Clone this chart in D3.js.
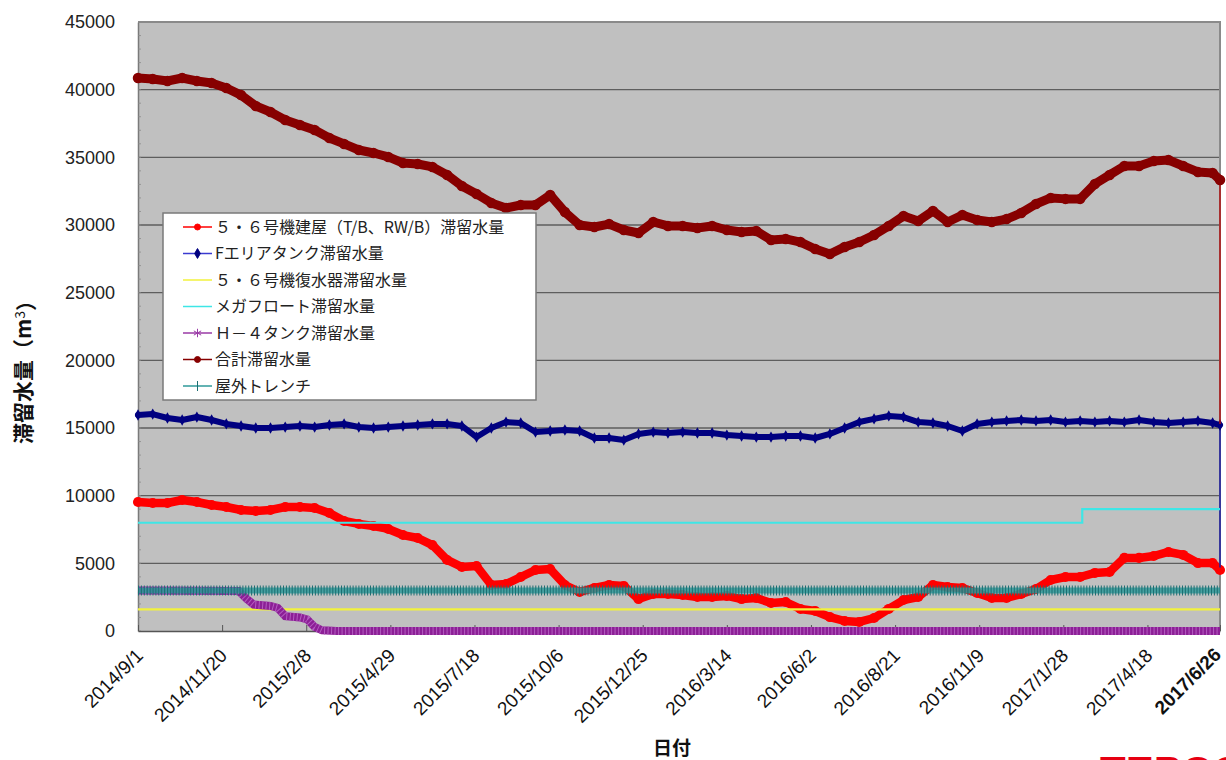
<!DOCTYPE html>
<html>
<head>
<meta charset="utf-8">
<script src="https://cdn.jsdelivr.net/npm/d3@7"></script>
<style>
  body { margin: 0; background: #fff; }
  svg { display: block; }
</style>
</head>
<body>
<svg id="chart" width="1226" height="760"></svg>
<script>
// sample dates (every two weeks, plus the last day)
var sampleDates = [
  "2014-09-01","2014-09-15","2014-09-29","2014-10-13","2014-10-27","2014-11-10","2014-11-24","2014-12-08","2014-12-22",
  "2015-01-05","2015-01-19","2015-02-02","2015-02-16","2015-03-02","2015-03-16","2015-03-30","2015-04-13","2015-04-27",
  "2015-05-11","2015-05-25","2015-06-08","2015-06-22","2015-07-06","2015-07-20","2015-08-03","2015-08-17","2015-08-31",
  "2015-09-14","2015-09-28","2015-10-12","2015-10-26","2015-11-09","2015-11-23","2015-12-07","2015-12-21",
  "2016-01-04","2016-01-18","2016-02-01","2016-02-15","2016-02-29","2016-03-14","2016-03-28","2016-04-11","2016-04-25",
  "2016-05-09","2016-05-23","2016-06-06","2016-06-20","2016-07-04","2016-07-18","2016-08-01","2016-08-15","2016-08-29",
  "2016-09-12","2016-09-26","2016-10-10","2016-10-24","2016-11-07","2016-11-21","2016-12-05","2016-12-19",
  "2017-01-02","2017-01-16","2017-01-30","2017-02-13","2017-02-27","2017-03-13","2017-03-27","2017-04-10","2017-04-24",
  "2017-05-08","2017-05-22","2017-06-05","2017-06-19","2017-06-26"
];

// 5・6号機建屋（T/B、RW/B）滞留水量
var buildingWater = [
  9530,9460,9460,9680,9530,9310,9160,8940,8870,
  8940,9160,9160,9090,8720,8130,7910,7760,7540,
  7090,6870,6350,5250,4730,4800,3400,3470,3990,
  4510,4580,3400,2880,3180,3400,3330,2360,
  2730,2730,2660,2510,2510,2590,2360,2440,2070,
  2140,1630,1480,1030,740,670,960,1630,2290,
  2510,3400,3250,3180,2810,2440,2440,2730,
  3100,3770,3990,3990,4290,4360,5400,5400,5540,
  5840,5620,5020,5020,4510
];

// Fエリアタンク滞留水量
var fAreaTank = [
  15960,16030,15740,15590,15810,15590,15300,15150,15000,
  15000,15070,15150,15070,15220,15300,15070,15000,15070,
  15150,15220,15300,15300,15150,14330,15000,15440,15370,
  14700,14780,14850,14780,14260,14260,14110,14560,
  14700,14630,14700,14630,14630,14480,14410,14330,14330,
  14410,14410,14260,14560,15000,15440,15670,15890,15810,
  15440,15370,15150,14780,15300,15440,15520,15590,
  15520,15590,15440,15520,15440,15520,15440,15590,15440,
  15370,15440,15520,15370,15220
];

// 合計滞留水量
var totalWater = [
  40860,40790,40640,40860,40640,40490,40120,39600,38790,
  38350,37760,37390,37020,36430,35990,35540,35320,35030,
  34580,34510,34290,33700,32880,32290,31630,31260,31480,
  31480,32220,30960,30000,29850,30070,29630,29410,
  30220,29930,29930,29780,29930,29630,29480,29560,28890,
  28970,28740,28230,27860,28380,28740,29260,29930,30670,
  30300,31040,30220,30740,30370,30220,30440,30890,
  31550,32000,31930,31930,33030,33700,34360,34360,34730,
  34800,34360,33920,33840,33330
];

// the last record of the two series drops to a lower value
var endDropDate = "2017-06-26";
var totalDropValue = 15300;
var fAreaDropValue = 4700;

// 5・６号機復水器滞留水量
var condenserDates = ["2014-09-01", "2017-06-26"];
var condenserValues = [1600, 1600];

// メガフロート滞留水量
var megaFloatDates = ["2014-09-01", "2017-02-15", "2017-06-26"];
var megaFloatValues = [8000, 9000, 9000];

// Ｈ－４タンク滞留水量
var h4Dates = ["2014-09-01","2014-12-06","2014-12-13","2014-12-20","2015-01-05","2015-01-12","2015-01-19",
               "2015-02-02","2015-02-09","2015-02-16","2015-02-23","2015-03-09","2017-06-26"];
var h4Values = [3000,2950,2400,1950,1850,1700,1100,1000,850,300,50,0,0];

// 屋外トレンチ
var trenchDates = ["2014-09-01", "2017-06-26"];
var trenchValues = [3000, 3000];

var xTickLabels = ["2014/9/1","2014/11/20","2015/2/8","2015/4/29","2015/7/18","2015/10/6","2015/12/25",
                   "2016/3/14","2016/6/2","2016/8/21","2016/11/9","2017/1/28","2017/4/18","2017/6/26"];
var yTicks = [0,5000,10000,15000,20000,25000,30000,35000,40000,45000];

var legendNames = [
  "５・６号機建屋（T/B、RW/B）滞留水量",
  "Fエリアタンク滞留水量",
  "５・６号機復水器滞留水量",
  "メガフロート滞留水量",
  "Ｈ－４タンク滞留水量",
  "合計滞留水量",
  "屋外トレンチ"
];

//=======================
// scales
//=======================
var parseDay = d3.timeParse("%Y-%m-%d");
var parseLabel = d3.timeParse("%Y/%m/%d");

var plotLeft = 138, plotRight = 1220, plotTop = 22, plotBottom = 631;

var x = d3.scaleTime()
  .domain([parseDay("2014-09-01"), parseDay("2017-06-26")])
  .range([plotLeft, plotRight]);
var y = d3.scaleLinear()
  .domain([0, 45000])
  .range([plotBottom, plotTop]);

var svg = d3.select('#chart');
var numFont = '"Liberation Sans", Arial, sans-serif';
var jpFont = '"Noto Sans CJK JP", "Noto Sans", sans-serif';

function pairs (dates, values) {
  return dates.map(function (d, i) { return { date: parseDay(d), value: values[i] }; });
}

var line = d3.line()
  .x(function (d) { return x(d.date); })
  .y(function (d) { return y(d.value); });

// plot background
svg.append('rect')
  .attr('x', plotLeft).attr('y', plotTop)
  .attr('width', plotRight - plotLeft).attr('height', plotBottom - plotTop)
  .style('fill', '#c0c0c0');

// grid lines
svg.append('g')
  .selectAll('line')
  .data(yTicks.filter(function (t) { return t > 0 && t < 45000; }))
  .enter().append('line')
  .attr('x1', plotLeft).attr('x2', plotRight)
  .attr('y1', function (d) { return y(d); })
  .attr('y2', function (d) { return y(d); })
  .style('stroke', '#5e5e5e')
  .style('stroke-width', 1.3);

// frame top / right
svg.append('path')
  .attr('d', 'M' + plotLeft + ',' + plotTop + 'H' + plotRight + 'V' + plotBottom)
  .style('fill', 'none')
  .style('stroke', '#8a8a8a')
  .style('stroke-width', 2);

//=======================
// axes
//=======================
var yAxis = svg.append('g')
  .attr('transform', 'translate(' + plotLeft + ',0)')
  .call(d3.axisLeft(y).tickValues(yTicks).tickSize(0).tickPadding(23).tickFormat(d3.format('d')));
yAxis.select('.domain').style('stroke', '#7a7a7a').style('stroke-width', 1.5);
yAxis.selectAll('text')
  .style('font-family', numFont)
  .style('font-size', '18px')
  .style('fill', '#222');

// minor ticks on the value axis
svg.append('g')
  .selectAll('line')
  .data(d3.range(0, 45001, 1000))
  .enter().append('line')
  .attr('x1', plotLeft).attr('x2', plotLeft + 3)
  .attr('y1', function (d) { return y(d); })
  .attr('y2', function (d) { return y(d); })
  .style('stroke', '#8a8a8a')
  .style('stroke-width', 0.8);

var xAxis = svg.append('g')
  .attr('transform', 'translate(0,' + plotBottom + ')')
  .call(d3.axisBottom(x)
    .tickValues(xTickLabels.map(parseLabel))
    .tickSizeInner(-6).tickSizeOuter(0)
    .tickFormat(function (d, i) { return xTickLabels[i]; }));
xAxis.select('.domain').style('stroke', '#555').style('stroke-width', 1.5);
xAxis.selectAll('line').style('stroke', '#555');
var lastLabel = xTickLabels.length - 1;
xAxis.selectAll('text')
  .style('font-family', numFont)
  .style('font-size', '19px')
  .style('fill', '#111')
  .style('font-weight', function (d, i) { return i == lastLabel ? 'bold' : 'normal'; })
  .attr('text-anchor', 'end')
  .attr('dy', '0.35em')
  .attr('transform', function (d, i) {
    return i == lastLabel ? 'translate(-3,20) rotate(-45)' : 'translate(1,21) rotate(-45)';
  })
  .attr('y', 0);

//=======================
// series
//=======================
var buildingData = pairs(sampleDates, buildingWater);
var fAreaData = pairs(sampleDates, fAreaTank);
var totalData = pairs(sampleDates, totalWater);

var plot = svg.append('g');

function thickSeries (data, color, width, r, shape) {
  plot.append('path')
    .datum(data)
    .attr('d', line)
    .style('fill', 'none')
    .style('stroke', color)
    .style('stroke-width', width)
    .style('stroke-linejoin', 'round')
    .style('stroke-linecap', 'round');
  plot.append('g')
    .selectAll('path')
    .data(data)
    .enter().append('path')
    .attr('transform', function (d) { return 'translate(' + x(d.date) + ',' + y(d.value) + ')'; })
    .attr('d', d3.symbol().type(shape).size(r * r * 3.2))
    .style('fill', color);
}

function dropLine (data, dropValue, color) {
  var last = data[data.length - 1];
  plot.append('path')
    .datum([last, { date: parseDay(endDropDate), value: dropValue }])
    .attr('d', line)
    .style('fill', 'none')
    .style('stroke', color)
    .style('stroke-width', 1.5);
}

// 5・6号機建屋
thickSeries(buildingData, '#ff0000', 8.5, 5, d3.symbolCircle);

// Fエリアタンク
dropLine(fAreaData, fAreaDropValue, '#1a1aa0');
thickSeries(fAreaData, '#000080', 6, 3.4, d3.symbolDiamond);

// 復水器
plot.append('path')
  .datum(pairs(condenserDates, condenserValues))
  .attr('d', line)
  .style('fill', 'none')
  .style('stroke', '#f2f23c')
  .style('stroke-width', 2.2);

// メガフロート
plot.append('path')
  .datum(pairs(megaFloatDates, megaFloatValues))
  .attr('d', line.curve(d3.curveStepAfter))
  .style('fill', 'none')
  .style('stroke', '#3ee6e6')
  .style('stroke-width', 2.2);
line.curve(d3.curveLinear);

// Ｈ－４タンク
var h4Data = pairs(h4Dates, h4Values);
plot.append('path')
  .datum(h4Data)
  .attr('d', line)
  .style('fill', 'none')
  .style('stroke', '#8c1f96')
  .style('stroke-width', 8);
plot.append('path')
  .datum(h4Data)
  .attr('d', line)
  .style('fill', 'none')
  .style('stroke', '#b35cc0')
  .style('stroke-width', 8)
  .style('stroke-dasharray', '1 2.5');

// 合計
dropLine(totalData, totalDropValue, '#b01010');
thickSeries(totalData, '#870000', 9, 5.2, d3.symbolCircle);

// 屋外トレンチ
var trenchData = pairs(trenchDates, trenchValues);
plot.append('path')
  .datum(trenchData)
  .attr('d', line)
  .style('fill', 'none')
  .style('stroke', '#2f9a9a')
  .style('stroke-width', 6)
  .style('opacity', 0.85);
plot.append('path')
  .datum(trenchData)
  .attr('d', line)
  .style('fill', 'none')
  .style('stroke', '#1c6e72')
  .style('stroke-width', 10)
  .style('stroke-dasharray', '1 1.9');

//=======================
// legend
//=======================
var legend = svg.append('g');
legend.append('rect')
  .attr('x', 163).attr('y', 213)
  .attr('width', 373).attr('height', 187)
  .style('fill', '#fff')
  .style('stroke', '#7a7a7a')
  .style('stroke-width', 1.5);

var legendColors = ['#ff0000', '#3a3ad0', '#f2f23c', '#3ee6e6', '#9a3aa6', '#870000', '#2f9a9a'];
var markColors = ['#ff0000', '#000080', null, null, '#9a3aa6', '#870000', '#1c6e72'];
var markShapes = [d3.symbolCircle, d3.symbolDiamond, null, null, d3.symbolAsterisk, d3.symbolCircle, d3.symbolCross];

var rows = legend.selectAll('g.row')
  .data(legendNames)
  .enter().append('g')
  .attr('class', 'row')
  .attr('transform', function (d, i) { return 'translate(0,' + (227 + i * 26.5) + ')'; });

rows.append('line')
  .attr('x1', 183).attr('x2', 212)
  .style('stroke', function (d, i) { return legendColors[i]; })
  .style('stroke-width', 1.5);

rows.filter(function (d, i) { return markShapes[i] != null; })
  .append('path')
  .attr('transform', 'translate(197.5,0)')
  .attr('d', function (d) {
    var i = legendNames.indexOf(d);
    var shape = markShapes[i];
    if (shape == d3.symbolAsterisk) return d3.symbol().type(shape).size(50)();
    if (shape == d3.symbolCross) return 'M0,-5V5';
    return d3.symbol().type(shape).size(28)();
  })
  .style('fill', function (d) { return markColors[legendNames.indexOf(d)]; })
  .style('stroke', function (d) { return markColors[legendNames.indexOf(d)]; })
  .style('stroke-width', 1);

rows.append('text')
  .attr('x', 215)
  .attr('dy', '0.36em')
  .style('font-family', jpFont)
  .style('font-size', '16px')
  .style('fill', '#222')
  .text(function (d) { return d; });

//=======================
// titles
//=======================
var yTitle = svg.append('text')
  .attr('transform', 'translate(31,367) rotate(-90)')
  .attr('text-anchor', 'middle')
  .style('font-family', jpFont)
  .style('font-size', '21px')
  .style('font-weight', 'bold')
  .style('fill', '#111');
yTitle.append('tspan').text('滞留水量（m');
yTitle.append('tspan').attr('dy', '-0.45em').style('font-size', '14px').style('font-weight', 'normal').text('3');
yTitle.append('tspan').attr('dy', '0.45em').text('）');

svg.append('text')
  .attr('x', 672).attr('y', 755)
  .attr('text-anchor', 'middle')
  .style('font-family', jpFont)
  .style('font-size', '19px')
  .style('font-weight', 'bold')
  .style('fill', '#111')
  .text('日付');

// logo corner, cut by the picture edge
svg.append('text')
  .attr('x', 1100).attr('y', 786)
  .style('font-family', numFont)
  .style('font-size', '42px')
  .style('font-weight', 'bold')
  .style('fill', '#e60012')
  .text('TEPCO');
</script>
</body>
</html>
